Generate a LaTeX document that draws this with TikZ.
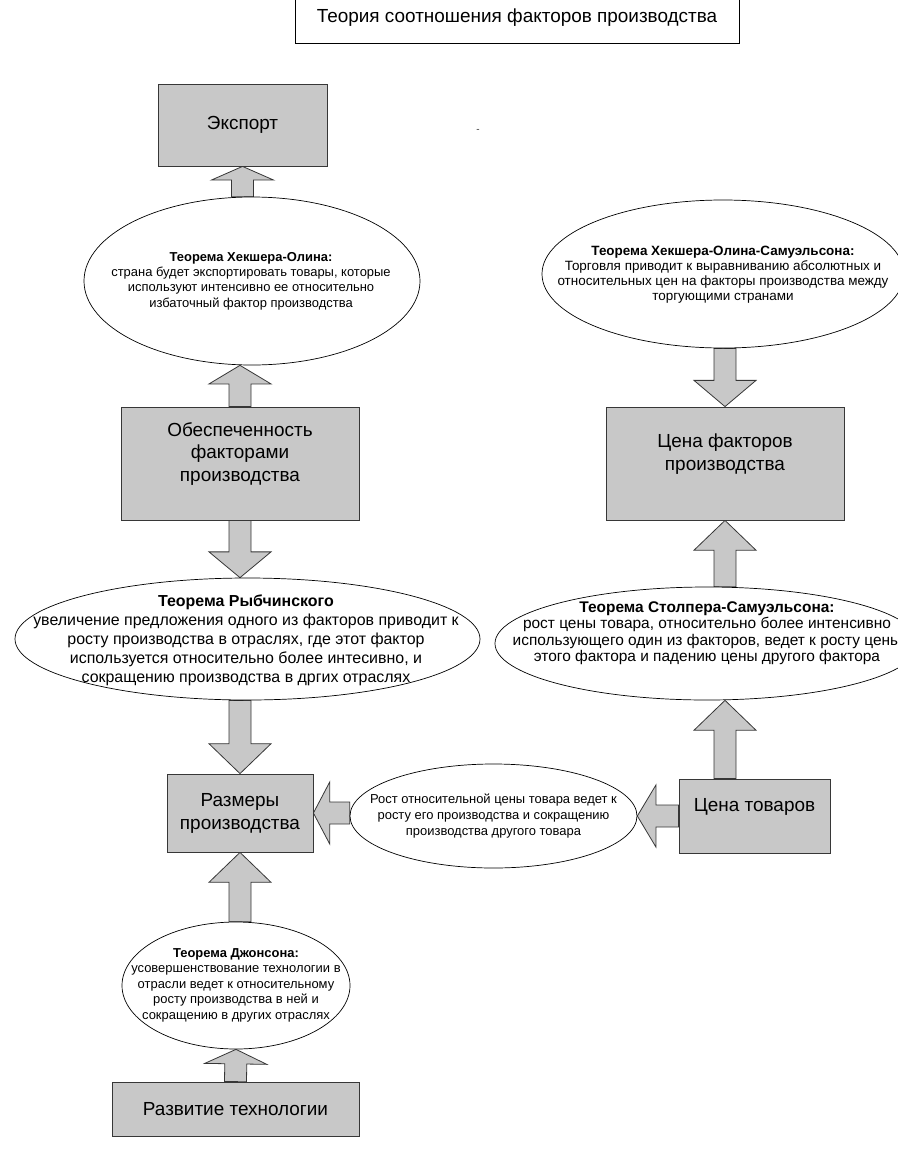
\documentclass[tikz,border=0pt]{standalone}
\usepackage{fontspec}
\setmainfont{Liberation Sans}
\usetikzlibrary{calc}
\usetikzlibrary{positioning}
\usetikzlibrary{shapes}
\usetikzlibrary{backgrounds}
\definecolor{boxgray}{RGB}{200,200,200}
\definecolor{edge}{RGB}{55,55,55}

\begin{document}
\begin{tikzpicture}[x=1bp, y=-1bp,
box/.style={rectangle, draw=edge, fill=boxgray, line width=0.8bp, inner sep=0pt, align=center, font=\fontsize{19}{23}\selectfont},
oval/.style={ellipse, draw=black, fill=white, line width=0.7bp, inner sep=0pt},
otext/.style={align=center, inner sep=0pt, font=\fontsize{13}{15.5}\selectfont},
barrow/.style={draw=edge, fill=boxgray, line width=0.8bp, line join=miter}]

\useasboundingbox (0,0) rectangle (898,1169);

\node [box, fill=white, draw=black, minimum width=444bp, minimum height=50bp] (title) at (517,18) {Теория соотношения факторов производства};
\node [font=\fontsize{10}{12}\selectfont, text=edge] (dash) at (478,131) {-};

% left column
\node [box, minimum width=169bp, minimum height=82bp] (export) at (242.5,125) {Экспорт};
\node [oval, minimum width=336bp, minimum height=168bp] (hoe) at (252,281) {};
\node [otext] (hoe-t) at (251,281) {\textbf{Теорема Хекшера-Олина:}\\страна будет экспортировать товары, которые\\используют интенсивно ее относительно\\избаточный фактор производства};
\node [box, minimum width=238bp, minimum height=113bp] (obesp) at (240,463.5) {Обеспеченность\\факторами\\производства\\\mbox{}};
\node [oval, minimum width=465bp, minimum height=122bp] (ryb) at (247.5,639) {};
\node [otext, font=\fontsize{16}{19}\selectfont] (ryb-t) at (246,640) {\textbf{Теорема Рыбчинского}\\увеличение предложения одного из факторов приводит к\\росту производства в отраслях, где этот фактор\\используется относительно более интесивно, и\\сокращению производства в дргих отраслях};
\node [box, minimum width=146bp, minimum height=78bp] (razm) at (240,813) {Размеры\\производства};
\node [oval, minimum width=228bp, minimum height=127bp] (dzh) at (236,985.5) {};
\node [otext] (dzh-t) at (236,985) {\textbf{Теорема Джонсона:}\\усовершенствование технологии в\\отрасли ведет к относительному\\росту производства в ней и\\сокращению в других отраслях};
\node [box, minimum width=247bp, minimum height=54bp] (razv) at (235.5,1109) {Развитие технологии};

% right column
\node [oval, minimum width=362bp, minimum height=148bp] (hos) at (723,274) {};
\node [otext, font=\fontsize{13.5}{15}\selectfont] (hos-t) at (723,274.5) {\textbf{Теорема Хекшера-Олина-Самуэльсона:}\\Торговля приводит к выравниванию абсолютных и\\относительных цен на факторы производства между\\торгующими странами};
\node [box, minimum width=238bp, minimum height=113bp] (cenaf) at (725,463.5) {Цена факторов\\производства\\\mbox{}};
\node [oval, minimum width=424bp, minimum height=113bp] (sts) at (707,643.5) {};
\node [otext, font=\fontsize{15.5}{16.5}\selectfont] (sts-t) at (707,633) {\textbf{Теорема Столпера-Самуэльсона:}\\рост цены товара, относительно более интенсивно\\использующего один из факторов, ведет к росту цены\\этого фактора и падению цены другого фактора};
\node [box, minimum width=151bp, minimum height=74bp] (cenat) at (754.5,816) {Цена товаров\\\mbox{}};
\node [oval, minimum width=287bp, minimum height=104bp] (mid) at (493.5,816) {};
\node [otext, font=\fontsize{13}{16}\selectfont] (mid-t) at (493.5,816) {Рост относительной цены товара ведет к\\росту его производства и сокращению\\производства другого товара};

% free ends of the block arrows
\coordinate (a1) at (export.south |- hoe.north);
\coordinate (a2) at (obesp.north |- hoe.south);
\coordinate (a3) at (obesp.south |- ryb.north);
\coordinate (a4) at (razm.north |- ryb.south);
\coordinate (a5) at (razm.south |- dzh.north);
\coordinate (a7) at (cenaf.north |- hos.south);
\coordinate (a8) at (cenaf.south |- sts.north);
\coordinate (a9) at (cenaf.south |- cenat.north);
\coordinate (a9t) at (cenaf.south |- sts.south);
\coordinate (a10) at (mid.east |- cenat.west);
\coordinate (a11) at (mid.west |- razm.east);

\begin{pgfonlayer}{background}
\foreach \a/\b in {a1/export.south, obesp.north/a2, obesp.south/a3, a4/razm.north, a5/razm.south, razv.north/dzh.south, a7/cenaf.north, a8/cenaf.south, a9/a9t, cenat.west/a10, a11/razm.east}
\draw [barrow] let \p1=($(\b)-(\a)$), \n1={veclen(\x1,\y1)}, \n2={min(30,0.45*\n1)}, \n3={atan2(\y1,\x1)} in
  ($(\a)+(\n3+90:11bp)$) -- ($(\b)!\n2!(\a)+(\n3+90:11bp)$) -- ($(\b)!\n2!(\a)+(\n3+90:31bp)$) -- (\b)
  -- ($(\b)!\n2!(\a)+(\n3-90:31bp)$) -- ($(\b)!\n2!(\a)+(\n3-90:11bp)$) -- ($(\a)+(\n3-90:11bp)$) -- cycle;
\end{pgfonlayer}
\end{tikzpicture}
\end{document}
